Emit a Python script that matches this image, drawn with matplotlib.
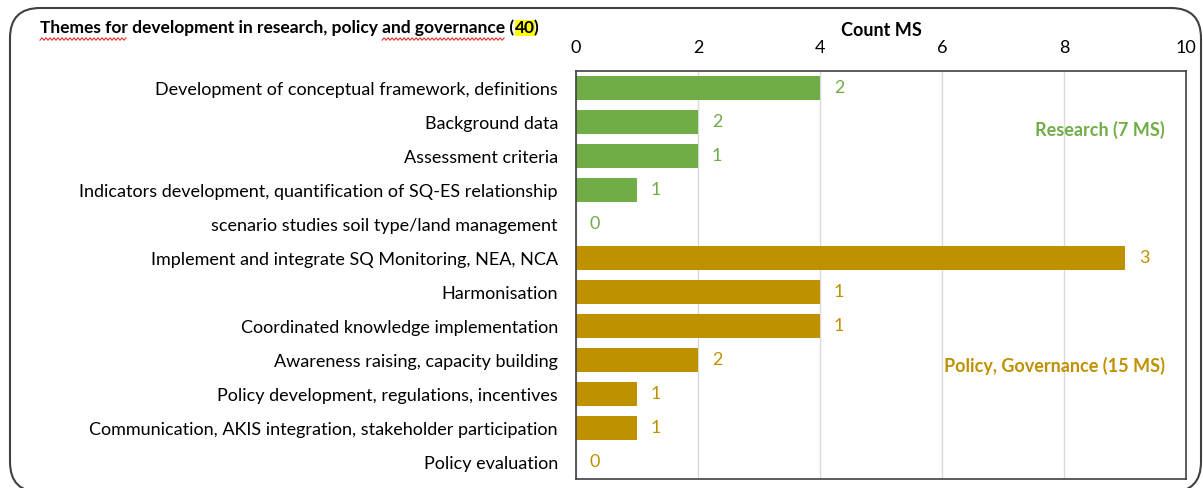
import numpy as np
import matplotlib
matplotlib.use("Agg")
import matplotlib.pyplot as plt
from matplotlib.patches import FancyBboxPatch
from matplotlib.lines import Line2D

plt.rcParams['font.family'] = ['Lato', 'DejaVu Sans']

themes = [
    "Development of conceptual framework, definitions",
    "Background data",
    "Assessment criteria",
    "Indicators development, quantification of SQ-ES relationship",
    "scenario studies soil type/land management",
    "Implement and integrate SQ Monitoring, NEA, NCA",
    "Harmonisation",
    "Coordinated knowledge implementation",
    "Awareness raising, capacity building",
    "Policy development, regulations, incentives",
    "Communication, AKIS integration, stakeholder participation",
    "Policy evaluation",
]
count_ms = [4, 2, 2, 1, 0, 9, 4, 4, 2, 1, 1, 0]
bar_labels = [2, 2, 1, 1, 0, 3, 1, 1, 2, 1, 1, 0]
group = ["R"] * 5 + ["P"] * 7

green = "#70AD47"
gold = "#BF9000"
colors = [green if g == "R" else gold for g in group]

W, H = 1203, 488
fig = plt.figure(figsize=(W / 100, H / 100), dpi=100)
ax = fig.add_axes([576 / W, 1 - 479 / H, 610 / W, 408 / H])

y = np.arange(len(themes))
ax.barh(y, count_ms, height=0.68, color=colors, zorder=2)
for yi, v, lab, c in zip(y, count_ms, bar_labels, colors):
    ax.annotate(str(lab), (v, yi), xytext=(10, 0), textcoords="offset points",
                va="center", ha="left", color=c, fontsize=13)

ax.set_xlim(0, 10)
ax.set_ylim(len(themes) - 0.5, -0.5)
ax.set_xticks([0, 2, 4, 6, 8, 10])
ax.xaxis.tick_top()
ax.xaxis.set_label_position("top")
ax.set_xlabel("Count MS", fontsize=13, fontweight="bold", labelpad=3)
ax.tick_params(axis="x", length=0, labelsize=13, pad=11)
ax.tick_params(axis="y", length=0, labelsize=13, pad=13)
ax.set_yticks(y)
ax.set_yticklabels(themes)
ax.grid(axis="x", color="#d9d9d9", linewidth=1, zorder=0)
for s in ax.spines.values():
    s.set_color("#404040")
    s.set_linewidth(1.2)

ax.text(0.965, 0.855, "Research (7 MS)", transform=ax.transAxes, ha="right",
        va="center", color=green, fontsize=13, fontweight="bold")
ax.text(0.965, 0.278, "Policy, Governance (15 MS)", transform=ax.transAxes,
        ha="right", va="center", color=gold, fontsize=13, fontweight="bold")

# title with highlighted number and spell-check squiggles
renderer = fig.canvas.get_renderer()
title = "Themes for development in research, policy and governance ("
tx, ty = 40 / W, 1 - 28 / H
tkw = dict(fontsize=12.5, fontweight="bold", va="center", ha="left")
t1 = fig.text(tx, ty, title, **tkw)
bb = t1.get_window_extent(renderer).transformed(fig.transFigure.inverted())
t2 = fig.text(bb.x1 + 1 / W, ty, "40", bbox=dict(facecolor="#FFFF00", edgecolor="none", pad=0.3), **tkw)
bb2 = t2.get_window_extent(renderer).transformed(fig.transFigure.inverted())
fig.text(bb2.x1 - 2 / W, ty, ")", **tkw)


def width_px(s):
    t = fig.text(0, 0, s, **tkw)
    w = t.get_window_extent(renderer).width
    t.remove()
    return w


def squiggle(x0, x1, ypix):
    xs = np.arange(x0, x1 + 0.1, 2.0)
    ys = ypix + np.where(np.arange(len(xs)) % 2 == 0, 1.2, -1.2)
    fig.add_artist(Line2D(xs / W, 1 - ys / H, color="#e0302a", lw=0.8,
                          transform=fig.transFigure))


x_start = 40
squiggle(x_start, x_start + width_px("Themes for"), 39)
end2 = width_px("Themes for development in research, policy and governance")
squiggle(x_start + end2 - width_px("and governance"), x_start + end2, 39)

# outer rounded frame
frame = FancyBboxPatch((10 / W, 1 - 492 / H), 1191 / W, 484 / H,
                       boxstyle="round,pad=0,rounding_size=0.025",
                       transform=fig.transFigure, facecolor="none",
                       edgecolor="#404040", linewidth=1.5, mutation_aspect=W / H)
fig.patches.append(frame)

fig.savefig("out.png", dpi=100)
